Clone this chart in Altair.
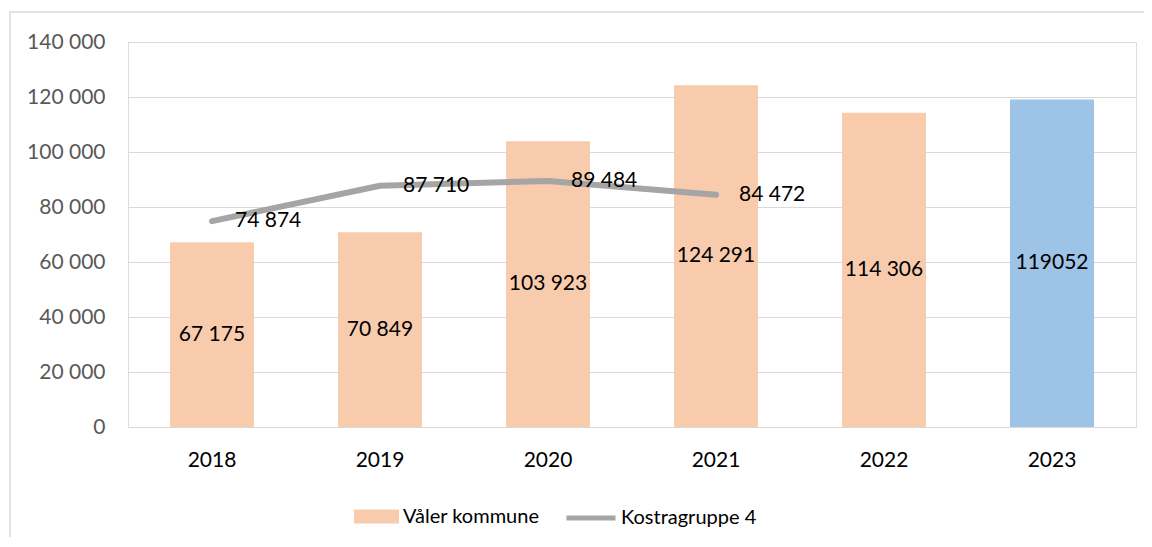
import altair as alt
import pandas as pd

years = ["2018", "2019", "2020", "2021", "2022", "2023"]
valer = [67175, 70849, 103923, 124291, 114306, 119052]
valer_labels = ["67 175", "70 849", "103 923", "124 291", "114 306", "119052"]
bar_group = ["Våler kommune"] * 5 + ["2023"]

kostra_years = ["2018", "2019", "2020", "2021"]
kostra = [74874, 87710, 89484, 84472]
kostra_labels = ["74 874", "87 710", "89 484", "84 472"]

y_ticks = [0, 20000, 40000, 60000, 80000, 100000, 120000, 140000]

bars_df = pd.DataFrame({"year": years, "value": valer, "label": valer_labels, "grp": bar_group})
line_df = pd.DataFrame({"year": kostra_years, "value": kostra, "label": kostra_labels,
                        "series": ["Kostragruppe 4"] * 4})

W, H = 1008, 385
FONT = "Lato"

xscale = alt.Scale(domain=years, paddingInner=0.5, paddingOuter=0.25)
yscale = alt.Scale(domain=[0, 140000], nice=False)

x_enc = alt.X("year:N", scale=xscale, sort=years,
              axis=alt.Axis(title=None, labelAngle=0, ticks=False, domain=True,
                            domainColor="#D9D9D9", labelPadding=22, labelFontSize=21,
                            labelColor="#000000", labelFont=FONT))
y_axis = alt.Axis(title=None, values=y_ticks, domain=False, ticks=False, gridColor="#D9D9D9",
                  labelPadding=23, labelFontSize=21, labelColor="#595959", labelFont=FONT,
                  labelExpr="replace(format(datum.value, ','), regexp(',', 'g'), ' ')")

bars = alt.Chart(bars_df).mark_bar().encode(
    x=x_enc,
    y=alt.Y("value:Q", scale=yscale, axis=y_axis),
    fill=alt.Fill("grp:N",
                  scale=alt.Scale(domain=["Våler kommune", "2023"], range=["#F8CBAD", "#9DC3E6"]),
                  legend=alt.Legend(title=None, values=["Våler kommune"], orient="none",
                                    legendX=226, legendY=452,
                                    symbolType="M-1,-0.31L1,-0.31L1,0.31L-1,0.31Z",
                                    symbolSize=2025, symbolStrokeWidth=0, labelFontSize=20,
                                    labelFont=FONT, labelColor="#000000", labelOffset=4)),
)

bar_text = alt.Chart(bars_df).transform_calculate(mid="datum.value / 2").mark_text(
    fontSize=21, font=FONT, color="#000000", baseline="middle", align="center"
).encode(
    x=alt.X("year:N", scale=xscale, sort=years),
    y=alt.Y("mid:Q", scale=yscale),
    text="label:N",
)

line = alt.Chart(line_df).mark_line(strokeWidth=6, strokeCap="round", strokeJoin="round").encode(
    x=alt.X("year:N", scale=xscale, sort=years),
    y=alt.Y("value:Q", scale=yscale),
    stroke=alt.Stroke("series:N",
                      scale=alt.Scale(domain=["Kostragruppe 4"], range=["#A5A5A5"]),
                      legend=alt.Legend(title=None, orient="none", legendX=436, legendY=449,
                                        symbolType="stroke", symbolSize=2401,
                                        symbolStrokeWidth=5, labelFontSize=20,
                                        labelFont=FONT, labelColor="#000000", labelOffset=3)),
)

line_text = alt.Chart(line_df).mark_text(
    fontSize=21, font=FONT, color="#000000", baseline="middle", align="left", dx=23
).encode(
    x=alt.X("year:N", scale=xscale, sort=years),
    y=alt.Y("value:Q", scale=yscale),
    text="label:N",
)

border = alt.Chart(pd.DataFrame({"a": [0]})).mark_rect(
    fillOpacity=0, stroke="#D9D9D9", strokeWidth=1.5
).encode(
    x=alt.value(-118), x2=alt.value(1040), y=alt.value(-30), y2=alt.value(520)
)

chart = alt.layer(border, bars, bar_text, line, line_text).resolve_scale(
    fill="independent", stroke="independent"
).properties(
    width=W, height=H,
    autosize=alt.AutoSizeParams(type="none"),
    padding={"left": 120, "top": 34, "right": 8, "bottom": 110},
).configure_view(stroke=None).configure(font=FONT)

chart.save("out.html", embed_options={"renderer": "svg", "actions": False})
